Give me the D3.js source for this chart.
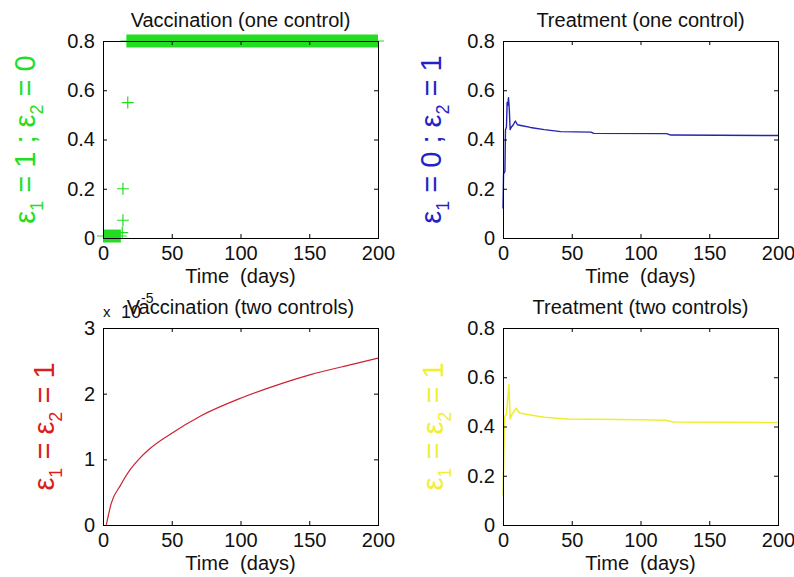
<!DOCTYPE html>
<html><head><meta charset="utf-8">
<script src="https://cdn.jsdelivr.net/npm/d3@7"></script>
<style>
html,body{margin:0;padding:0;background:#fff;}
svg{display:block;}
text, tspan{font-family:"Liberation Sans",Arial,Helvetica,sans-serif;}
</style>
</head><body>
<svg id="chart" width="794" height="577"></svg>
<script>
// ---------------- data ----------------
const xTicks = [0, 50, 100, 150, 200];
const yTicksShare = [0, 0.2, 0.4, 0.6, 0.8];
const yTicksVacc2 = [0, 1, 2, 3];

const panelTitles = ["Vaccination (one control)", "Treatment (one control)", "Vaccination (two controls)", "Treatment (two controls)"];
const xAxisLabel = "Time  (days)";

// Vaccination, one control: isolated '+' markers
const vacc1MarkT = [18, 14.5, 14.5, 14];
const vacc1MarkV = [0.55, 0.2, 0.072, 0.022];
// Vaccination, one control: runs of densely packed '+' markers
const vacc1RunT0 = [0, 17];
const vacc1RunT1 = [13, 200];
const vacc1RunV = [0.008, 0.8];

// Treatment, one control
const treat1T = [0, 0.4, 1.4, 1.8, 2.5, 3.0, 3.5, 4.0, 4.6, 5.2, 6.0, 7.5, 9.0, 10.5, 13, 20, 30, 42, 64, 66, 119, 122, 200];
const treat1V = [0.12, 0.26, 0.27, 0.44, 0.45, 0.55, 0.54, 0.57, 0.52, 0.44, 0.45, 0.46, 0.475, 0.46, 0.457, 0.449, 0.44, 0.432, 0.43, 0.425, 0.424, 0.418, 0.416];

// Vaccination, two controls (x 1e-5)
const vacc2T = [2.4, 6, 12.6, 20, 26, 34, 49.5, 71, 100, 126.5, 151, 182, 200];
const vacc2V = [0, 0.33, 0.6, 0.85, 1.0, 1.16, 1.39, 1.66, 1.93, 2.13, 2.29, 2.45, 2.54];

// Treatment, two controls
const treat2T = [0, 1.2, 2.5, 4.3, 5.2, 6.5, 8, 9.5, 12, 20, 30, 47, 100, 118, 124, 200];
const treat2V = [0.12, 0.44, 0.45, 0.57, 0.43, 0.45, 0.46, 0.475, 0.455, 0.447, 0.438, 0.43, 0.427, 0.425, 0.418, 0.416];

// y-label pieces: [text, isSubscript]
const yLabelGreen = [["ε", 0], ["1", 1], [" = 1 ; ε", 0], ["2", 1], [" = 0", 0]];
const yLabelBlue = [["ε", 0], ["1", 1], [" = 0 ; ε", 0], ["2", 1], [" = 1", 0]];
const yLabelRed = [["ε", 0], ["1", 1], [" = ε", 0], ["2", 1], [" = 1", 0]];
const yLabelYellow = [["ε", 0], ["1", 1], [" = ε", 0], ["2", 1], [" = 1", 0]];

// ---------------- drawing ----------------
const FONT = "'Liberation Sans',Arial,Helvetica,sans-serif";
const svg = d3.select("#chart");
svg.append("rect").attr("width", 794).attr("height", 577).attr("fill", "#fff");

const PW = 275, PH = 197;
const panels = [
  {left: 103, top: 41, yDomain: [0, 0.8], yTicks: yTicksShare, title: panelTitles[0], label: yLabelGreen, labelColor: "#22dd22", lx: 35, kind: "vacc1"},
  {left: 503, top: 41, yDomain: [0, 0.8], yTicks: yTicksShare, title: panelTitles[1], label: yLabelBlue, labelColor: "#2222c8", lx: 441, kind: "treat1"},
  {left: 103, top: 328, yDomain: [0, 3], yTicks: yTicksVacc2, title: panelTitles[2], label: yLabelRed, labelColor: "#d82020", lx: 54, kind: "vacc2"},
  {left: 503, top: 328, yDomain: [0, 0.8], yTicks: yTicksShare, title: panelTitles[3], label: yLabelYellow, labelColor: "#f0f030", lx: 443, kind: "treat2"}
];

function plusPath(x, y, r) {
  return `M${x - r},${y}H${x + r}M${x},${y - r}V${y + r}`;
}

panels.forEach(p => {
  const g = svg.append("g").attr("transform", `translate(${p.left},${p.top})`);
  const x = d3.scaleLinear().domain([0, 200]).range([0, PW]);
  const y = d3.scaleLinear().domain(p.yDomain).range([PH, 0]);

  // data
  if (p.kind === "vacc1") {
    const col = "#22dd22";
    vacc1RunT0.forEach((t0, i) => {
      const t1 = vacc1RunT1[i], v = vacc1RunV[i];
      g.append("rect").attr("x", x(t0)).attr("y", y(v) - 6.5)
        .attr("width", x(t1) - x(t0)).attr("height", 13).attr("fill", col);
      g.append("line").attr("x1", x(t0) - 6).attr("x2", x(t1) + 6)
        .attr("y1", y(v)).attr("y2", y(v)).attr("stroke", col).attr("stroke-width", 1);
    });
    vacc1MarkT.forEach((t, i) => {
      g.append("path").attr("d", plusPath(x(t), y(vacc1MarkV[i]), 6))
        .attr("stroke", col).attr("stroke-width", 1.2).attr("fill", "none");
    });
  } else {
    let T, V, col, w, curve = d3.curveLinear;
    if (p.kind === "treat1") { T = treat1T; V = treat1V; col = "#2424b0"; w = 1.4; }
    if (p.kind === "vacc2") { T = vacc2T; V = vacc2V; col = "#cc2233"; w = 1.2; curve = d3.curveMonotoneX; }
    if (p.kind === "treat2") { T = treat2T; V = treat2V; col = "#eeee30"; w = 1.5; }
    const pts = T.map((t, i) => [t, V[i]]);
    g.append("path").datum(pts).attr("d", d3.line().x(d => x(d[0])).y(d => y(d[1])).curve(curve))
      .attr("fill", "none").attr("stroke", col).attr("stroke-width", w).attr("stroke-linejoin", "round");
  }

  // axes (inward ticks, mirrored)
  const fmt = d => String(d);
  const ax = g.append("g").attr("transform", `translate(0,${PH})`)
    .call(d3.axisBottom(x).tickValues(xTicks).tickSize(-4).tickPadding(0).tickFormat(fmt));
  ax.selectAll("text").attr("y", 22).attr("dy", null);
  g.append("g")
    .call(d3.axisLeft(y).tickValues(p.yTicks).tickSize(-4).tickPadding(8).tickFormat(fmt));
  g.append("g").call(d3.axisTop(x).tickValues(xTicks).tickSize(-4).tickFormat(""));
  g.append("g").attr("transform", `translate(${PW},0)`)
    .call(d3.axisRight(y).tickValues(p.yTicks).tickSize(-4).tickFormat(""));
  g.selectAll(".domain").remove();
  g.selectAll(".tick line").attr("stroke", "#000");
  g.selectAll(".tick text").style("font-size", "20px").attr("fill", "#111")
    .style("font-family", FONT);
  g.append("rect").attr("x", 0).attr("y", 0).attr("width", PW).attr("height", PH)
    .attr("fill", "none").attr("stroke", "#000").attr("stroke-width", 1).attr("shape-rendering", "crispEdges");

  // title
  g.append("text").attr("x", PW / 2).attr("y", -14).attr("text-anchor", "middle")
    .style("font-size", "20px").style("font-family", FONT).attr("fill", "#111").text(p.title);
  // x label
  g.append("text").attr("x", PW / 2).attr("y", PH + 45).attr("text-anchor", "middle")
    .style("font-size", "20px").style("font-family", FONT).style("white-space", "pre").attr("fill", "#111").text(xAxisLabel);

  // y label (rotated, with subscripts)
  const cy = p.top + PH / 2;
  const yl = svg.append("text").attr("transform", `translate(${p.lx},${cy}) rotate(-90)`)
    .attr("text-anchor", "middle").style("font-size", "29px").style("font-family", FONT)
    .style("white-space", "pre").attr("fill", p.labelColor);
  let prevSub = false;
  p.label.forEach(([s, sub]) => {
    const ts = yl.append("tspan").style("font-family", FONT).text(s);
    if (sub) { ts.style("font-size", "18px").attr("dy", 8); }
    else if (prevSub) { ts.attr("dy", -8); }
    prevSub = !!sub;
  });

  // exponent label for the x1e-5 axis
  if (p.kind === "vacc2") {
    g.append("text").attr("x", 0).attr("y", -11).style("font-size", "15px").style("font-family", FONT).attr("fill", "#111").text("x");
    g.append("text").attr("x", 18).attr("y", -10).style("font-size", "18px").style("font-family", FONT).attr("fill", "#111").text("10");
    g.append("text").attr("x", 38).attr("y", -25).style("font-size", "14px").style("font-family", FONT).attr("fill", "#111").text("-5");
  }
});
</script>
</body></html>
